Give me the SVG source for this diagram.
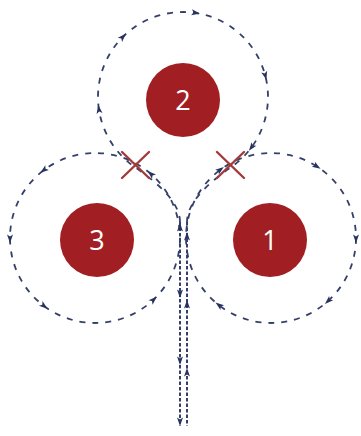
<svg xmlns="http://www.w3.org/2000/svg" xmlns:xlink="http://www.w3.org/1999/xlink" width="361" height="436" viewBox="0 0 361 436">
<style>
.ring{fill:none;stroke:#34406a;stroke-width:1.8;stroke-dasharray:6 7}
.line{fill:none;stroke:#34406a;stroke-width:2;stroke-dasharray:3.5 2}
.ah{fill:#27325e}
.node{fill:#a11f22}
.lbl{fill:#ffffff;font-family:"Open Sans","Liberation Sans",Arial,sans-serif;font-size:27px;text-anchor:middle}
.x{stroke:#a33a3a;stroke-width:2.4;stroke-linecap:round}
</style>
<defs>
<path id="ah" d="M5,0 L-3.5,-3 L-1.5,0 L-3.5,3 Z"/>
</defs>
<rect width="361" height="436" fill="#ffffff"/>
<g id="connectors">
<path class="ring" d="M180,222 C180,200 152.2,179.2 134.2,166.6 A85,85 0 1 1 231.8,166.6 C213.8,179.2 187,200 187,222"/>
<circle class="ring" cx="95" cy="238" r="85"/>
<circle class="ring" cx="271" cy="238" r="85"/>
<line class="line" x1="180" y1="222" x2="180" y2="426"/>
<line class="line" x1="187" y1="222" x2="187" y2="426"/>
<g class="ah">
<use xlink:href="#ah" transform="translate(195,12.8) rotate(8)"/>
<use xlink:href="#ah" transform="translate(122.4,37.4) rotate(-45.5)"/>
<use xlink:href="#ah" transform="translate(99,110) rotate(-99)"/>
<use xlink:href="#ah" transform="translate(265.1,75) rotate(75)"/>
<use xlink:href="#ah" transform="translate(251.9,146.8) rotate(126)"/>
<use xlink:href="#ah" transform="translate(44.3,169.7) rotate(143.4)"/>
<use xlink:href="#ah" transform="translate(10,238) rotate(90)"/>
<use xlink:href="#ah" transform="translate(43.5,305.6) rotate(37.3)"/>
<use xlink:href="#ah" transform="translate(153.1,300.1) rotate(-43.1)"/>
<use xlink:href="#ah" transform="translate(151.4,174.4) rotate(-138.4)"/>
<use xlink:href="#ah" transform="translate(316.3,166.1) rotate(32.2)"/>
<use xlink:href="#ah" transform="translate(356,238) rotate(90)"/>
<use xlink:href="#ah" transform="translate(328.6,300.5) rotate(137.3)"/>
<use xlink:href="#ah" transform="translate(219.5,305.6) rotate(217.3)"/>
<use xlink:href="#ah" transform="translate(219.8,170.1) rotate(-37)"/>
<use xlink:href="#ah" transform="translate(180,228) rotate(-90)"/>
<use xlink:href="#ah" transform="translate(180,293) rotate(90)"/>
<use xlink:href="#ah" transform="translate(180,360) rotate(90)"/>
<use xlink:href="#ah" transform="translate(180,421) rotate(90)"/>
<use xlink:href="#ah" transform="translate(187,237) rotate(-90)"/>
<use xlink:href="#ah" transform="translate(187,305) rotate(-90)"/>
<use xlink:href="#ah" transform="translate(187,373) rotate(-90)"/>
</g>
</g>
<g id="cross-left">
<line class="x" x1="122" y1="152" x2="149" y2="178"/>
<line class="x" x1="149" y1="152" x2="122" y2="178"/>
</g>
<g id="cross-right">
<line class="x" x1="217" y1="152" x2="244" y2="178"/>
<line class="x" x1="244" y1="152" x2="217" y2="178"/>
</g>
<g id="node-2">
<circle class="node" cx="183" cy="100" r="37"/>
<text class="lbl" x="183" y="109.5">2</text>
</g>
<g id="node-3">
<circle class="node" cx="97" cy="240" r="37"/>
<text class="lbl" x="97" y="249.5">3</text>
</g>
<g id="node-1">
<circle class="node" cx="270" cy="240" r="37"/>
<text class="lbl" x="270" y="249.5">1</text>
</g>
</svg>
